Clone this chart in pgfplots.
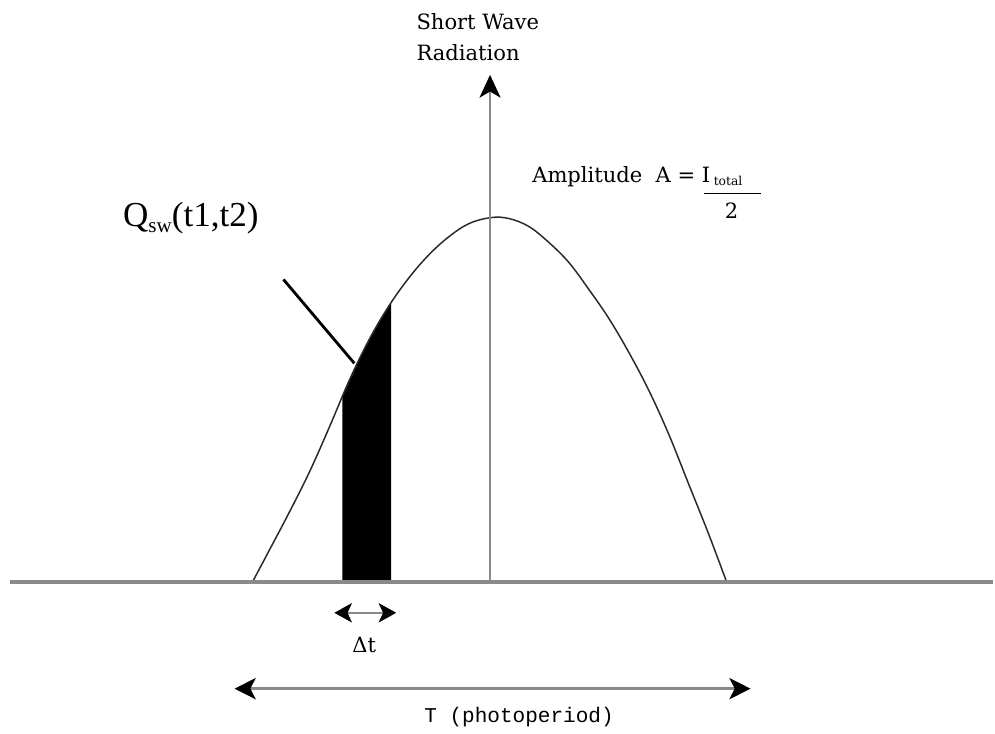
\documentclass[border=0pt]{standalone}
\usepackage{fontspec}
\setmainfont{Liberation Serif}
\newfontfamily\labelfont{DejaVu Serif}
\newfontfamily\monofont{Liberation Mono}
\usepackage{pgfplots}
\pgfplotsset{compat=1.18}
\usetikzlibrary{arrows.meta}

\definecolor{curvegray}{HTML}{2A2A2A}
\definecolor{axisgray}{HTML}{8A8A8A}

\begin{document}
\begin{tikzpicture}
\begin{axis}[
  width=19.9cm, height=14.7cm, scale only axis,
  xmin=0, xmax=995, ymin=-152, ymax=583,
  hide axis, clip=false,
]
% keep the full drawing area as the picture's extent
\path (rel axis cs:0,0) rectangle (rel axis cs:1,1);

% shaded slice Q_sw(t1,t2) over the interval dt
\addplot[fill=black, draw=none] coordinates {
  (343,0) (343,186) (350,202) (360,223) (370,243) (380,261) (390,277) (392,280) (392,0)
} -- cycle;

% daily short wave radiation curve
\addplot[curvegray, line width=0.85pt, smooth, tension=0.6] coordinates {
  (253,0) (270,32) (290,70) (310,110) (330,155) (350,202) (370,243)
  (390,277) (410,305) (430,328) (450,346) (470,359) (492,365)
  (510,364) (530,356) (550,340) (570,320) (590,293) (610,264)
  (630,230) (650,192) (670,148) (690,98) (710,48) (728,0)
};

% time axis and radiation axis
\draw[axisgray, line width=2.2pt] (axis cs:10,0) -- (axis cs:995,0);
\draw[axisgray, line width=1.2pt, -{Stealth[color=black, length=13pt, width=12pt, inset=3.5pt]}]
  (axis cs:491,0) -- (axis cs:491,508);

% pointer to the shaded slice
\draw[black, line width=1.6pt] (axis cs:284,303) -- (axis cs:355,219);

% interval arrows
\draw[axisgray, line width=1.2pt,
  {Stealth[color=black, length=10pt, width=11pt, inset=2.5pt]}-{Stealth[color=black, length=10pt, width=11pt, inset=2.5pt]}]
  (axis cs:335,-31) -- (axis cs:397,-31);
\draw[axisgray, line width=2pt,
  {Stealth[color=black, length=12pt, width=12pt, inset=3pt]}-{Stealth[color=black, length=12pt, width=12pt, inset=3pt]}]
  (axis cs:235,-107) -- (axis cs:752,-107);

% labels
\node[anchor=base west, inner sep=0pt, font=\labelfont\fontsize{12}{14}\selectfont]
  at (axis cs:417,553) {Short Wave};
\node[anchor=base west, inner sep=0pt, font=\labelfont\fontsize{12}{14}\selectfont]
  at (axis cs:417,522) {Radiation};

\node[anchor=base west, inner sep=0pt, font=\labelfont\fontsize{12}{14}\selectfont]
  at (axis cs:533,400) {Amplitude~ A = I\,\raisebox{-0.3ex}{\fontsize{7}{8}\selectfont total}};
\draw[black, line width=0.6pt] (axis cs:705,389) -- (axis cs:762,389);
\node[anchor=center, inner sep=0pt, font=\labelfont\fontsize{12}{14}\selectfont]
  at (axis cs:733,372) {2};

\node[anchor=base west, inner sep=0pt, font=\fontsize{20}{24}\selectfont]
  at (axis cs:123,356) {Q\raisebox{-0.35ex}{\fontsize{12}{14}\selectfont sw}(t1,t2)};

\node[anchor=center, inner sep=0pt, font=\labelfont\fontsize{12}{14}\selectfont]
  at (axis cs:365,-63) {Δt};

\node[anchor=center, inner sep=0pt, font=\monofont\fontsize{12}{14}\selectfont]
  at (axis cs:520,-135) {T (photoperiod)};
\end{axis}
\end{tikzpicture}
\end{document}
